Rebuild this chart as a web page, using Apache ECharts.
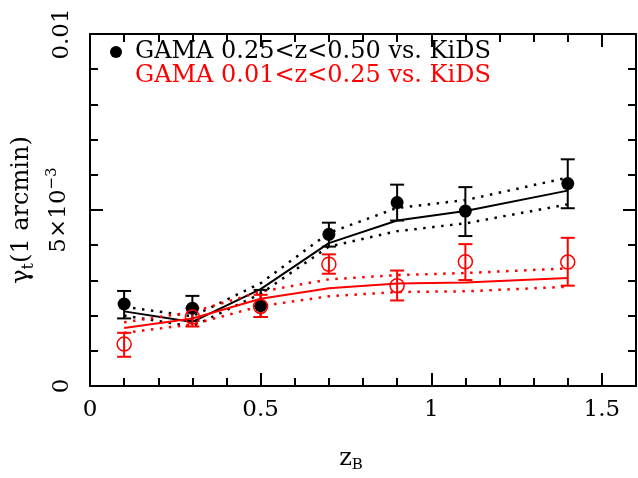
<!DOCTYPE html>
<html>
<head>
<meta charset="utf-8">
<script src="https://cdn.jsdelivr.net/npm/echarts@6/dist/echarts.min.js"></script>
<style>html,body{margin:0;padding:0;background:#fff}#c{width:638px;height:478px}</style>
</head>
<body>
<div id="c"></div>
<script>
// ---- data ----
const zB = [0.1, 0.3, 0.5, 0.7, 0.9, 1.1, 1.4];

// GAMA 0.25<z<0.50 vs. KiDS (black)
const hiPts   = [0.00233, 0.00221, 0.00228, 0.00431, 0.00521, 0.00497, 0.00575];
const hiErrLo = [0.00192, 0.00185, 0.00196, 0.00396, 0.00470, 0.00426, 0.00505];
const hiErrHi = [0.00270, 0.00256, 0.00273, 0.00464, 0.00572, 0.00565, 0.00644];
const hiModel = [0.00212, 0.00182, 0.00275, 0.00406, 0.00470, 0.00497, 0.00555];
const hiModelUp  = [0.00225, 0.00198, 0.00292, 0.00435, 0.00506, 0.00528, 0.00592];
const hiModelLow = [0.00200, 0.00169, 0.00262, 0.00396, 0.00440, 0.00462, 0.00516];

// GAMA 0.01<z<0.25 vs. KiDS (red)
const loPts   = [0.00119, 0.00196, 0.00226, 0.00346, 0.00285, 0.00353, 0.00352];
const loErrLo = [0.00083, 0.00169, 0.00196, 0.00319, 0.00243, 0.00301, 0.00285];
const loErrHi = [0.00151, 0.00221, 0.00259, 0.00374, 0.00328, 0.00403, 0.00421];
const loModel = [0.00165, 0.00192, 0.00248, 0.00278, 0.00291, 0.00294, 0.00307];
const loModelUp  = [0.00181, 0.00210, 0.00268, 0.00303, 0.00315, 0.00321, 0.00334];
const loModelLow = [0.00151, 0.00175, 0.00227, 0.00255, 0.00267, 0.00269, 0.00282];

const xTicks = [0, 0.5, 1, 1.5];
const yTicks = [0, 0.005, 0.01];
const yTickLabels = ['0', '5×10{sup|−3}', '0.01'];

const nameHi = 'GAMA 0.25<z<0.50 vs. KiDS';
const nameLo = 'GAMA 0.01<z<0.25 vs. KiDS';

// ---- build ----
const FONT = 'DejaVu Serif';
const pair = (xs, ys) => xs.map((x, i) => [x, ys[i]]);
const errData = (xs, lo, hi) => xs.map((x, i) => [x, lo[i], hi[i]]);

function errRender(color) {
  return function (params, api) {
    const x = api.value(0);
    const a = api.coord([x, api.value(1)]);
    const b = api.coord([x, api.value(2)]);
    const w = 7;
    const st = { stroke: color, lineWidth: 2 };
    return {
      type: 'group',
      children: [
        { type: 'line', shape: { x1: a[0], y1: a[1], x2: b[0], y2: b[1] }, style: st },
        { type: 'line', shape: { x1: a[0] - w, y1: a[1], x2: a[0] + w, y2: a[1] }, style: st },
        { type: 'line', shape: { x1: b[0] - w, y1: b[1], x2: b[0] + w, y2: b[1] }, style: st }
      ]
    };
  };
}

function lineSeries(data, color, dotted) {
  return {
    type: 'line', data: data, symbol: 'none', silent: true, z: 2,
    lineStyle: dotted ? { color: color, width: 2.5, type: [2.5, 6.5], cap: 'butt' } : { color: color, width: 2 }
  };
}

function axisParts() {
  return {
    axisLine: { show: true, onZero: false, lineStyle: { color: '#000', width: 2 } },
    axisTick: { show: true, inside: true, length: 13, lineStyle: { color: '#000', width: 2 } },
    minorTick: { show: true, splitNumber: 5, length: 8, lineStyle: { color: '#000', width: 2 } },
    splitLine: { show: false }
  };
}

const chart = echarts.init(document.getElementById('c'));
chart.setOption({
  animation: false,
  backgroundColor: '#fff',
  grid: { left: 90, right: 2, top: 34, bottom: 91 },
  legend: {
    left: 104, top: 35, orient: 'vertical', itemGap: 0,
    itemWidth: 12, itemHeight: 12,
    textStyle: { fontFamily: FONT, fontSize: 24, padding: [0, 0, 0, 8], lineHeight: 21 },
    data: [
      { name: nameHi, icon: 'circle', itemStyle: { color: '#000', opacity: 1 }, textStyle: { color: '#000' } },
      { name: nameLo, icon: 'emptyCircle', itemStyle: { color: '#fff', borderColor: '#f00', borderWidth: 1.3 }, textStyle: { color: '#f00' } }
    ]
  },
  xAxis: [
    Object.assign({
      type: 'value', min: 0, max: 1.6, interval: 0.5,
      axisLabel: {
        margin: 13, color: '#000', fontFamily: FONT, fontSize: 23,
        showMaxLabel: false,
        formatter: v => (xTicks.some(t => Math.abs(t - v) < 1e-9) ? String(v) : '')
      },
      name: 'z{sub|B}', nameLocation: 'middle', nameGap: 58,
      nameTextStyle: { color: '#000', fontFamily: FONT, fontSize: 24, padding: [0, 24, 0, 0],
        rich: { sub: { fontFamily: FONT, fontSize: 15, verticalAlign: 'bottom', padding: [14, 0, 0, 0] } } }
    }, axisParts()),
    Object.assign({
      type: 'value', position: 'top', min: 0, max: 1.6, interval: 0.5,
      axisLabel: { show: false }
    }, axisParts())
  ],
  yAxis: [
    Object.assign({
      type: 'value', min: 0, max: 0.01, interval: 0.005,
      axisLabel: {
        rotate: 90, margin: 16, color: '#000', fontFamily: FONT, fontSize: 23,
        formatter: v => {
          const i = yTicks.findIndex(t => Math.abs(t - v) < 1e-12);
          return i >= 0 ? yTickLabels[i] : '';
        },
        rich: { sup: { fontFamily: FONT, fontSize: 15, verticalAlign: 'top', padding: [0, 0, 14, 0], color: '#000' } }
      },
      name: 'γ{sub|t}(1 arcmin)', nameLocation: 'middle', nameGap: 37, nameRotate: 90,
      nameTextStyle: { color: '#000', fontFamily: FONT, fontSize: 24,
        rich: { sub: { fontFamily: FONT, fontSize: 16, verticalAlign: 'bottom', padding: [14, 0, 0, 0] } } }
    }, axisParts()),
    Object.assign({
      type: 'value', position: 'right', min: 0, max: 0.01, interval: 0.005,
      axisLabel: { show: false }
    }, axisParts())
  ],
  series: [
    lineSeries(pair(zB, hiModel), '#000', false),
    lineSeries(pair(zB, hiModelUp), '#000', true),
    lineSeries(pair(zB, hiModelLow), '#000', true),
    lineSeries(pair(zB, loModel), '#f00', false),
    lineSeries(pair(zB, loModelUp), '#f00', true),
    lineSeries(pair(zB, loModelLow), '#f00', true),
    { type: 'custom', renderItem: errRender('#000'), data: errData(zB, hiErrLo, hiErrHi), z: 3, silent: true },
    { type: 'custom', renderItem: errRender('#f00'), data: errData(zB, loErrLo, loErrHi), z: 3, silent: true },
    {
      name: nameHi, type: 'scatter', data: pair(zB, hiPts), symbol: 'circle', symbolSize: 13, z: 4,
      itemStyle: { color: '#000', opacity: 1 }
    },
    {
      name: nameLo, type: 'scatter', data: pair(zB, loPts), symbol: 'circle', symbolSize: 14, z: 5,
      itemStyle: { color: 'rgba(255,255,255,0)', borderColor: '#f00', borderWidth: 1.5, opacity: 1 }
    }
  ]
});
</script>
</body>
</html>
